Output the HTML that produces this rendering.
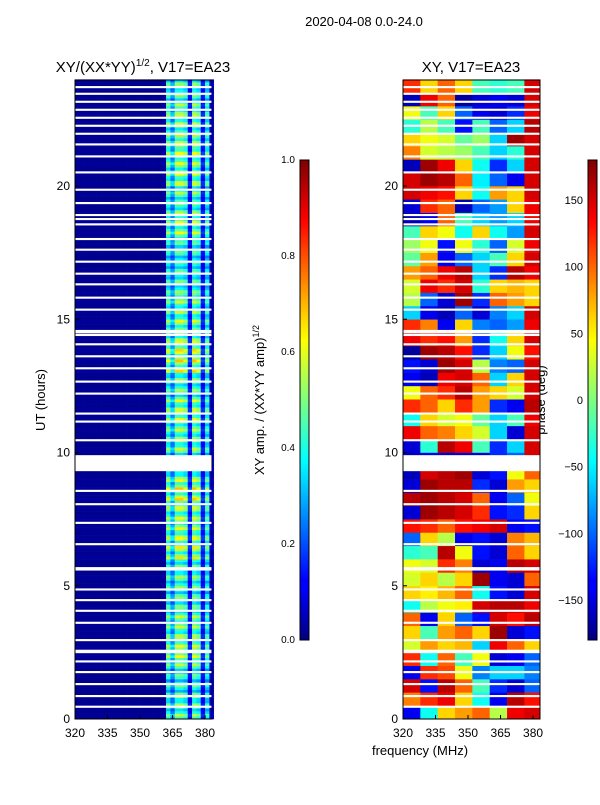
<!DOCTYPE html>
<html><head><meta charset="utf-8">
<style>
body{margin:0;background:#fff;font-family:"Liberation Sans",sans-serif;}
svg text{font-family:"Liberation Sans",sans-serif;fill:#000;}
</style></head><body>
<svg id="fig" width="600" height="800" xmlns="http://www.w3.org/2000/svg">
<rect width="600" height="800" fill="#fff"/>
<text x="364" y="26" font-size="13" text-anchor="middle">2020-04-08 0.0-24.0</text>
<text x="143" y="72" font-size="15" text-anchor="middle">XY/(XX*YY)<tspan font-size="10" dy="-6">1/2</tspan><tspan dy="6">, V17=EA23</tspan></text>
<text x="471" y="72" font-size="15" text-anchor="middle">XY, V17=EA23</text>
<text transform="translate(45,400) rotate(-90)" font-size="13" text-anchor="middle">UT (hours)</text>
<text x="420" y="755" font-size="13" text-anchor="middle">frequency (MHz)</text>
<text transform="translate(264,400) rotate(-90)" font-size="13" text-anchor="middle">XY amp. / (XX*YY amp)<tspan font-size="9" dy="-5">1/2</tspan></text>
<text transform="translate(545,400) rotate(-90)" font-size="13" text-anchor="middle">phase (deg)</text>
<g id="left"></g>
<g id="right"></g>
<g id="axes"></g>
<defs>
<linearGradient id="jet" x1="0" y1="1" x2="0" y2="0">
<stop offset="0" stop-color="#00007f"/><stop offset="0.11" stop-color="#0000ff"/><stop offset="0.125" stop-color="#0000ff"/><stop offset="0.34" stop-color="#00dfff"/><stop offset="0.375" stop-color="#00ffff" /><stop offset="0.5" stop-color="#7fff7f"/><stop offset="0.625" stop-color="#ffff00"/><stop offset="0.66" stop-color="#ffdf00"/><stop offset="0.875" stop-color="#ff0000"/><stop offset="1" stop-color="#7f0000"/>
</linearGradient>
</defs>
<rect x="300" y="160" width="9" height="480" fill="url(#jet)" stroke="#000" stroke-width="1"/>
<rect x="588" y="160" width="9" height="480" fill="url(#jet)" stroke="#000" stroke-width="1"/>
</svg>
<script>
// ---- data ----
const freqCols = [320,322,324,326,328,330,332,334,336,338,340,342,344,346,348,350,352,354,356,358,360,362,364,366,368,370,372,374,376,378,380,382];
const ampProfile = [0.02,0.02,0.02,0.02,0.02,0.02,0.02,0.02,0.02,0.02,0.02,0.02,0.02,0.02,0.02,0.02,0.02,0.02,0.02,0.02,0.03,0.45,0.3,0.5,0.5,0.45,0.15,0.5,0.45,0.15,0.4,0.1];
const hourAmpScale = [0.9,0.8,1.0,0.95,0.85,0.9,1.05,1.0,1.1,0.9,0.95,1.0,0.9,1.1,1.0,0.95,0.85,0.8,1.0,0.9,1.0,1.05,0.95,0.9];
const gapHours = [0.45,0.85,1.3,1.75,2.15,2.5,2.55,2.95,3.6,4.05,4.45,4.85,5.6,5.65,6.55,7.35,8.05,8.55,10.45,11.15,11.45,12.2,12.65,13.15,13.6,14.05,14.4,14.5,14.55,15.35,15.8,16.3,16.7,17.15,17.6,18.0,18.55,18.75,18.9,19.35,19.85,20.5,21.1,21.55,21.95,22.25,22.55,22.85,23.15,23.45,23.7];
const gapRangeStart = [9.3];
const gapRangeEnd = [9.9];
const phaseCols = [320,328,336,344,352,360,368,376];
const phaseRows = [ // each row = half hour, from 0.0 upward
[-140,-40,60,80,100,20,140,150],
[90,120,140,60,-40,-140,160,130],
[150,-130,160,100,-20,-120,-150,-100],
[-140,120,110,40,-90,-60,-60,-90],
[120,-40,100,-20,40,-150,-140,-100],
[30,80,60,70,-60,140,100,60],
[60,-20,80,100,60,170,-150,-130],
[100,-140,60,-100,-130,150,130,160],
[-40,20,40,50,150,160,160,140],
[60,50,70,100,-40,-130,-150,150],
[30,60,20,60,170,-140,-150,100],
[40,30,120,90,-150,-140,160,150],
[-30,-20,160,40,-130,-150,100,60],
[-100,60,20,-140,-130,-150,90,70],
[130,120,100,130,140,150,-140,-130],
[-150,170,160,150,120,-130,-120,60],
[160,170,160,150,100,-140,-100,40],
[-150,170,160,160,-120,-150,80,60],
[-160,150,160,170,-150,-130,40,100],
[-160,-140,-150,-150,-150,-120,-100,150],
[-150,-30,160,140,-20,-120,-60,150],
[140,100,90,60,30,-60,-150,150],
[-40,60,30,40,-10,-60,-20,140],
[120,100,60,120,80,-120,-140,160],
[40,100,120,160,80,60,30,150],
[-140,-160,140,150,100,-60,60,150],
[-130,-150,170,150,20,-90,-100,150],
[-170,170,160,130,-120,-60,40,130],
[140,120,130,80,-120,-40,60,150],
[120,90,-140,60,-90,-100,-80,140],
[-60,-140,-160,-100,-150,-90,-60,150],
[20,-100,-150,170,-120,100,80,60],
[30,140,120,150,-30,60,70,60],
[80,100,140,160,-60,-120,160,140],
[-10,80,-140,-100,-60,-20,60,150],
[10,40,-130,40,-30,-100,30,140],
[-20,60,40,-40,60,-40,-80,150],
[-160,-140,100,-20,-60,-80,-60,140],
[-150,120,100,-160,-100,-80,60,140],
[150,140,130,60,-40,80,60,150],
[150,170,160,100,-50,-100,-140,150],
[-160,170,140,60,-40,-120,-60,150],
[90,30,20,10,-20,-60,-30,150],
[60,40,30,-10,10,-60,170,150],
[-30,20,-20,-130,-20,-100,-60,160],
[40,-20,60,-100,-140,-150,-120,140],
[-160,140,100,-170,-150,-140,-150,150],
[120,60,100,60,-20,-30,-20,150]];
const yTicks = [0,5,10,15,20];
const xTicks = [320,335,350,365,380];
const ampTicks = [0.0,0.2,0.4,0.6,0.8,1.0];
const phaseTicks = [-150,-100,-50,0,50,100,150];

// ---- scales ----
const NS='http://www.w3.org/2000/svg';
const Y0=719, pxPerHour=(719-186)/20;
const yS=h=>Y0-h*pxPerHour;
const fMin=320, fMax=383.2;
const panels={left:[75,212],right:[403,540]};
const xS=(p,f)=>panels[p][0]+(f-fMin)/(fMax-fMin)*(panels[p][1]-panels[p][0]);
function jet(v){v=Math.max(0,Math.min(1,v));const c=t=>Math.round(255*Math.max(0,Math.min(1,1.5-Math.abs(4*v-t))));return `rgb(${c(3)},${c(2)},${c(1)})`;}
function mk(tag,attrs,parent){const e=document.createElementNS(NS,tag);for(const k in attrs)e.setAttribute(k,attrs[k]);parent.appendChild(e);return e;}
const L=document.getElementById('left'), R=document.getElementById('right'), A=document.getElementById('axes');
const rowH=0.1;
for(let r=0;r<240;r++){
  const h=r*rowH, y=yS(h+rowH), hh=rowH*pxPerHour+0.3;
  const sc=hourAmpScale[Math.floor(h)]*(1+0.25*Math.sin(r*1.7));
  for(let c=0;c<freqCols.length;c++){
    const f=freqCols[c], x=xS('left',f), w=xS('left',f+2)-x;
    const e=mk('rect',{x:x,y:y,width:w+0.3,height:hh,fill:jet(ampProfile[c]*sc)},L);
    
    
  }
}
for(let r=0;r<phaseRows.length;r++){
  const y=yS((r+1)*0.5), hh=0.5*pxPerHour+0.3;
  for(let c=0;c<phaseCols.length;c++){
    const f=phaseCols[c], x=xS('right',f), f2=c+1<phaseCols.length?phaseCols[c+1]:fMax;
    const e=mk('rect',{x:x,y:y,width:xS('right',f2)-x+0.3,height:hh,fill:jet((phaseRows[r][c]+180)/360)},R);
    
    
  }
}
for(const p of ['left','right']){
  const g=p==='left'?L:R;
  for(const gh of gapHours){
    const e=mk('rect',{x:panels[p][0],y:yS(gh+0.05),width:panels[p][1]-panels[p][0],height:0.05*pxPerHour+0.8,fill:'#fff'},g);
    
    
  }
  for(let i=0;i<gapRangeStart.length;i++){
    const e=mk('rect',{x:panels[p][0],y:yS(gapRangeEnd[i]),width:panels[p][1]-panels[p][0],height:(gapRangeEnd[i]-gapRangeStart[i])*pxPerHour,fill:'#fff'},g);
    
    
  }
  const fr=mk('rect',{x:panels[p][0],y:80,width:panels[p][1]-panels[p][0],height:639,fill:'none',stroke:'#000','stroke-width':1},A);
  
  
  for(const t of yTicks){
    const y=yS(t);
    mk('line',{x1:panels[p][0],x2:panels[p][0]+4,y1:y,y2:y,stroke:'#000'},A);
    const tx=mk('text',{x:panels[p][0]-5,y:y+4,'font-size':12,'text-anchor':'end'},A);
    tx.textContent=t;
    
    
  }
  for(const t of xTicks){
    const x=xS(p,t);
    mk('line',{x1:x,x2:x,y1:719,y2:715,stroke:'#000'},A);
    const tx=mk('text',{x:x,y:737,'font-size':12,'text-anchor':'middle'},A);
    tx.textContent=t;
    
    
  }
}
for(const t of ampTicks){
  const y=640-t*480;
  mk('line',{x1:300,x2:304,y1:y,y2:y,stroke:'#000'},A);
  const tx=mk('text',{x:295,y:y+3,'font-size':10,'text-anchor':'end'},A);
  tx.textContent=t.toFixed(1);
  
  
}
for(const t of phaseTicks){
  const y=400-t*480/360;
  mk('line',{x1:588,x2:592,y1:y,y2:y,stroke:'#000'},A);
  const tx=mk('text',{x:583,y:y+4,'font-size':11,'text-anchor':'end'},A);
  tx.textContent=(t<0?'\u2212':'')+Math.abs(t);
  
  
}
</script>
</body></html>
